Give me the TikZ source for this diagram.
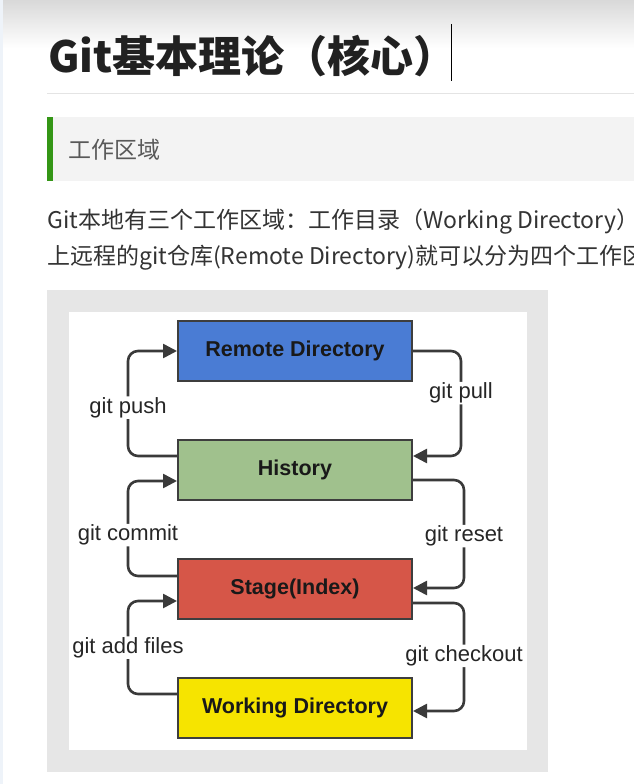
\documentclass[tikz,border=0pt]{standalone}
\usepackage{fontspec}
\newfontfamily\cjk{Noto Sans CJK SC}
\newfontfamily\diagfont{Liberation Sans}
\usetikzlibrary{arrows.meta,positioning,calc}
\definecolor{gitblue}{RGB}{74,124,212}
\definecolor{gitgreen}{RGB}{160,193,141}
\definecolor{gitred}{RGB}{214,86,72}
\definecolor{gityellow}{RGB}{246,228,0}
\definecolor{boxedge}{RGB}{62,62,62}
\definecolor{flowgray}{RGB}{58,58,58}
\definecolor{framegray}{RGB}{230,230,230}
\definecolor{headbg}{RGB}{243,243,243}
\definecolor{bargreen}{RGB}{52,150,22}
\definecolor{rulegray}{RGB}{228,228,228}
\definecolor{edgeblue}{RGB}{238,243,249}
\tikzset{
  area/.style={draw=boxedge, line width=2pt, minimum width=234pt, minimum height=60pt,
               font=\diagfont\bfseries\fontsize{21.5}{24}\selectfont, text=black!90},
  flow/.style={-{Triangle[length=14pt,width=14pt]}, flowgray, line width=2.6pt, rounded corners=10pt},
  cmd/.style={fill=white, inner xsep=3pt, inner ysep=1pt, text=black!85,
              font=\diagfont\fontsize{22}{24}\selectfont},
}

\begin{document}
\begin{tikzpicture}[x=1pt, y=-1pt]
    \useasboundingbox (0,0) rectangle (634,784);
    \clip (0,0) rectangle (634,784);
    \fill[white] (0,0) rectangle (634,784);
    \shade[top color=black!15, bottom color=white] (0,0) rectangle (634,48);
    \fill[edgeblue] (0,0) rectangle (3,784);
    \node[anchor=base west, inner sep=0, text=black!87,
          font=\cjk\bfseries\fontsize{43}{50}\selectfont] (title) at (48,73) {Git基本理论（核心）};
    \draw[line width=1pt] (451,24) -- (451,81);
    \draw[rulegray, line width=1pt] (47,93) -- (634,93);
    \fill[headbg] (47,117) rectangle (634,181);
    \fill[bargreen] (47,117) rectangle (53,181);
    \node[anchor=west, inner sep=0, text=black!65, font=\cjk\fontsize{23}{28}\selectfont] (section) at (68,150) {工作区域};
    \node[anchor=base west, inner sep=0, text=black!80, font=\cjk\fontsize{23}{28}\selectfont] (line1) at (47,228)
      {Git本地有三个工作区域：工作目录（Working Directory）};
    \node[anchor=base west, inner sep=0, text=black!80, font=\cjk\fontsize{23}{28}\selectfont] (line2) at (47,264)
      {上远程的git仓库(Remote Directory)就可以分为四个工作区};
    \fill[framegray] (47,290) rectangle (548,772);
    \fill[white] (69,312) rectangle (527,750);

    \node[area, fill=gitblue] (remote) at (295,351) {Remote Directory};
    \node[area, fill=gitgreen, below=57pt of remote] (history) {History};
    \node[area, fill=gitred, below=57pt of history] (stage) {Stage(Index)};
    \node[area, fill=gityellow, below=57pt of stage] (work) {Working Directory};

    \draw[flow] ([yshift=14pt]history.west) -- ++(-49,0) |- node[cmd, pos=0.23] {git push} (remote.west);
    \draw[flow] (remote.east) -- ++(48,0) |- node[cmd, pos=0.2] {git pull} ([yshift=14pt]history.east);
    \draw[flow] ([yshift=13pt]stage.west) -- ++(-49,0) |- node[cmd, pos=0.215] {git commit} ([yshift=-11pt]history.west);
    \draw[flow] ([yshift=-10pt]history.east) -- ++(51,0) |- node[cmd, pos=0.26] {git reset} ([yshift=1pt]stage.east);
    \draw[flow] ([yshift=14pt]work.west) -- ++(-49,0) |- node[cmd, pos=0.25] {git add files} ([yshift=-12pt]stage.west);
    \draw[flow] ([yshift=-14pt]stage.east) -- ++(51,0) |- node[cmd, pos=0.245] {git checkout} ([yshift=-3pt]work.east);
\end{tikzpicture}
\end{document}
